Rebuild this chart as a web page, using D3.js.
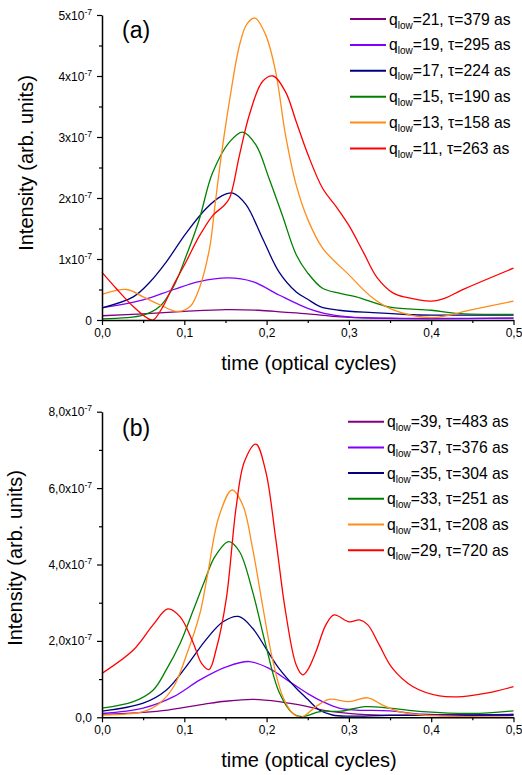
<!DOCTYPE html>
<html>
<head>
<meta charset="utf-8">
<script src="https://cdn.jsdelivr.net/npm/d3@7"></script>
<style>
  body { margin: 0; background: #fff; }
  svg { display: block; font-family: "Liberation Sans", Arial, sans-serif; }
</style>
</head>
<body>
<script>
// curves: [time (optical cycles), intensity in units of 1e-7]
// panel (a)
const a_q21 = [[0,0.07],[0.05,0.1],[0.1,0.14],[0.15,0.17],[0.19,0.16],[0.22,0.13],[0.25,0.1],[0.29,0.05],[0.33,0.03],[0.4,0.02],[0.5,0.03]];
const a_q19 = [[0,0.2],[0.05,0.33],[0.087,0.5],[0.118,0.63],[0.153,0.69],[0.183,0.63],[0.215,0.41],[0.25,0.19],[0.27,0.11],[0.3,0.05],[0.35,0.03],[0.5,0.03]];
const a_q17 = [[0,0.2],[0.038,0.38],[0.058,0.62],[0.078,0.95],[0.102,1.42],[0.126,1.82],[0.145,2.03],[0.159,2.08],[0.175,1.89],[0.195,1.34],[0.215,0.79],[0.236,0.46],[0.25,0.34],[0.265,0.22],[0.288,0.16],[0.329,0.12],[0.37,0.09],[0.4,0.08],[0.5,0.08]];
const a_q15 = [[0,0.02],[0.05,0.08],[0.07,0.22],[0.087,0.55],[0.102,1.04],[0.118,1.64],[0.134,2.4],[0.155,2.92],[0.171,3.08],[0.187,2.87],[0.203,2.32],[0.219,1.72],[0.236,1.07],[0.25,0.77],[0.268,0.52],[0.288,0.44],[0.309,0.38],[0.35,0.21],[0.4,0.16],[0.43,0.11],[0.5,0.09]];
const a_q13 = [[0,0.42],[0.03,0.5],[0.05,0.38],[0.07,0.25],[0.092,0.14],[0.107,0.22],[0.119,0.55],[0.131,1.2],[0.137,1.85],[0.145,2.7],[0.155,3.6],[0.167,4.5],[0.176,4.85],[0.186,4.95],[0.199,4.67],[0.211,4.07],[0.223,3.03],[0.236,2.21],[0.25,1.65],[0.268,1.18],[0.3,0.74],[0.329,0.36],[0.353,0.17],[0.4,0.04],[0.45,0.17],[0.5,0.31]];
const a_q11 = [[0,0.78],[0.017,0.52],[0.038,0.22],[0.054,0.04],[0.062,0],[0.074,0.22],[0.086,0.55],[0.102,0.95],[0.118,1.37],[0.135,1.72],[0.147,1.86],[0.155,2.0],[0.167,2.7],[0.179,3.36],[0.195,3.91],[0.208,4.0],[0.223,3.74],[0.236,3.25],[0.25,2.72],[0.268,2.16],[0.285,1.85],[0.3,1.55],[0.318,1.1],[0.334,0.7],[0.354,0.44],[0.37,0.37],[0.4,0.31],[0.417,0.36],[0.437,0.49],[0.5,0.85]];
// panel (b)
const b_q39 = [[0,0.08],[0.05,0.13],[0.08,0.19],[0.126,0.35],[0.15,0.42],[0.183,0.47],[0.215,0.41],[0.25,0.28],[0.268,0.19],[0.288,0.13],[0.33,0.06],[0.4,0.06],[0.5,0.06]];
const b_q37 = [[0,0.1],[0.05,0.24],[0.087,0.54],[0.119,0.98],[0.151,1.32],[0.179,1.46],[0.203,1.28],[0.228,0.93],[0.25,0.62],[0.268,0.41],[0.288,0.24],[0.309,0.19],[0.35,0.17],[0.39,0.08],[0.5,0.08]];
const b_q35 = [[0,0.16],[0.05,0.37],[0.078,0.71],[0.102,1.32],[0.126,2.02],[0.147,2.5],[0.166,2.64],[0.183,2.33],[0.199,1.81],[0.215,1.28],[0.236,0.76],[0.25,0.47],[0.264,0.19],[0.28,0.06],[0.3,0.03],[0.35,0.05],[0.5,0.06]];
const b_q33 = [[0,0.24],[0.038,0.41],[0.062,0.71],[0.078,1.24],[0.095,1.94],[0.111,2.81],[0.125,3.59],[0.137,4.2],[0.154,4.6],[0.167,4.34],[0.183,3.29],[0.199,1.89],[0.215,0.67],[0.232,0.1],[0.244,0.02],[0.265,0.15],[0.29,0.16],[0.32,0.28],[0.349,0.24],[0.39,0.15],[0.45,0.1],[0.5,0.17]];
const b_q31 = [[0,0.06],[0.05,0.15],[0.07,0.37],[0.087,0.8],[0.102,1.59],[0.119,2.72],[0.128,3.7],[0.142,5.25],[0.158,5.95],[0.171,5.56],[0.183,4.42],[0.195,2.94],[0.207,1.54],[0.219,0.58],[0.232,0.1],[0.242,0],[0.26,0.28],[0.276,0.47],[0.3,0.41],[0.323,0.51],[0.341,0.32],[0.361,0.15],[0.39,0.06],[0.45,0.02],[0.5,0]];
const b_q29 = [[0,1.15],[0.038,1.76],[0.062,2.42],[0.08,2.84],[0.095,2.63],[0.111,1.94],[0.121,1.41],[0.13,1.25],[0.139,1.8],[0.151,3.1],[0.163,5.5],[0.173,6.69],[0.187,7.15],[0.199,6.43],[0.211,4.69],[0.223,2.77],[0.236,1.37],[0.244,1.11],[0.25,1.24],[0.26,1.72],[0.272,2.42],[0.282,2.68],[0.3,2.5],[0.313,2.55],[0.323,2.42],[0.337,1.89],[0.353,1.28],[0.378,0.8],[0.41,0.56],[0.438,0.54],[0.467,0.63],[0.5,0.8]];

const qA = [21, 19, 17, 15, 13, 11];
const tauA = [379, 295, 224, 190, 158, 263];
const qB = [39, 37, 35, 33, 31, 29];
const tauB = [483, 376, 304, 251, 208, 720];

const xTicks = [0, 0.1, 0.2, 0.3, 0.4, 0.5];
const xMinor = [0.05, 0.15, 0.25, 0.35, 0.45];
const yTicksA = [0, 1, 2, 3, 4, 5];
const yTicksB = [0, 2, 4, 6, 8];

const colors = ["#800080", "#8000ff", "#000080", "#008000", "#ff8c1a", "#ff0000"];

const W = 522, H = 775;
const font = '"Liberation Sans", Arial, sans-serif';
const svg = d3.select("body").append("svg").attr("width", W).attr("height", H);

const comma = (d) => d3.format(".1f")(d).replace(".", ",");

const panel = (cfg) => {
  const x = d3.scaleLinear().domain([0, 0.5]).range([102, 513.5]);
  const y = d3.scaleLinear().domain([0, cfg.yMax * 1e-7]).range([cfg.y0, cfg.yTop]);
  const g = svg.append("g");

  const line = d3
    .line()
    .x((d) => x(d[0]))
    .y((d) => y(d[1] * 1e-7))
    .curve(d3.curveCatmullRom.alpha(0.5));

  // curves
  cfg.series.forEach((s, i) => {
    g.append("path")
      .datum(s)
      .attr("fill", "none")
      .attr("stroke", colors[i])
      .attr("stroke-width", 1.3)
      .attr("d", line);
  });

  // x axis
  const xAxis = g
    .append("g")
    .attr("transform", `translate(0,${cfg.y0})`)
    .call(d3.axisBottom(x).tickValues(xTicks).tickSize(5).tickSizeOuter(0).tickPadding(3.5).tickFormat(comma));
  xAxis.attr("font-family", font).attr("font-size", 12);
  xAxis.select(".domain").attr("stroke-width", 1.5);
  xAxis.selectAll(".tick line").attr("stroke-width", 1.2);
  g.append("g")
    .attr("transform", `translate(0,${cfg.y0})`)
    .call(d3.axisBottom(x).tickValues(xMinor).tickSize(3).tickFormat(""))
    .call((a) => a.select(".domain").remove())
    .selectAll(".tick line").attr("stroke-width", 1.2);

  // y axis
  const yAxis = g
    .append("g")
    .attr("transform", "translate(102,0)")
    .call(d3.axisLeft(y).tickValues(cfg.yTicks.map((d) => d * 1e-7)).tickSize(5).tickSizeOuter(0).tickFormat(""));
  yAxis.select(".domain").attr("stroke-width", 1.5);
  yAxis.selectAll(".tick line").attr("stroke-width", 1.2);
  g.append("g")
    .attr("transform", "translate(102,0)")
    .call(d3.axisLeft(y).tickValues(cfg.yMinor.map((d) => d * 1e-7)).tickSize(3).tickFormat(""))
    .call((a) => a.select(".domain").remove())
    .selectAll(".tick line").attr("stroke-width", 1.2);

  // y tick labels with superscript
  g.selectAll(".ylab")
    .data(cfg.yTicks)
    .join("text")
    .attr("class", "ylab")
    .attr("x", 92)
    .attr("y", (d) => y(d * 1e-7) + 4.5)
    .attr("text-anchor", "end")
    .attr("font-size", 12)
    .each(function (d) {
      const t = d3.select(this);
      if (d === 0) {
        t.text(cfg.zero);
        return;
      }
      t.append("tspan").text(cfg.fmt(d) + "x10");
      t.append("tspan").attr("font-size", 8.5).attr("dy", -5).text("-7");
    });

  // titles
  g.append("text")
    .attr("x", 309)
    .attr("y", cfg.y0 + 50)
    .attr("text-anchor", "middle")
    .attr("font-size", 20)
    .text("time (optical cycles)");
  g.append("text")
    .attr("transform", `translate(${cfg.yLabX},${cfg.yLabY}) rotate(-90)`)
    .attr("text-anchor", "middle")
    .attr("font-size", 20)
    .text("Intensity (arb. units)");
  g.append("text")
    .attr("x", 122)
    .attr("y", cfg.tagY)
    .attr("font-size", 23)
    .text(cfg.tag);

  // legend
  const leg = g.append("g");
  cfg.q.forEach((q, i) => {
    const ly = cfg.legY + i * cfg.legStep;
    leg.append("line")
      .attr("x1", cfg.legX).attr("x2", cfg.legX + 36)
      .attr("y1", ly).attr("y2", ly)
      .attr("stroke", colors[i]).attr("stroke-width", 2);
    const t = leg.append("text")
      .attr("x", cfg.legX + 39)
      .attr("y", ly + 5.5)
      .attr("font-size", 15.7);
    t.append("tspan").text("q");
    t.append("tspan").attr("font-size", 10).attr("dy", 4).text("low");
    t.append("tspan").attr("dy", -4).text(`=${q}, τ=${cfg.tau[i]} as`);
  });
};

panel({
  series: [a_q21, a_q19, a_q17, a_q15, a_q13, a_q11],
  yMax: 5, y0: 320, yTop: 15,
  yTicks: yTicksA, yMinor: [0.5, 1.5, 2.5, 3.5, 4.5],
  zero: "0", fmt: (d) => `${d}`,
  yLabX: 33, yLabY: 163,
  tag: "(a)", tagY: 38,
  q: qA, tau: tauA,
  legX: 350, legY: 19, legStep: 25.9
});

panel({
  series: [b_q39, b_q37, b_q35, b_q33, b_q31, b_q29],
  yMax: 8, y0: 717.3, yTop: 411.7,
  yTicks: yTicksB, yMinor: [1, 3, 5, 7],
  zero: "0,0", fmt: comma,
  yLabX: 21.5, yLabY: 558,
  tag: "(b)", tagY: 436,
  q: qB, tau: tauB,
  legX: 348, legY: 421.7, legStep: 25.7
});
</script>
</body>
</html>
